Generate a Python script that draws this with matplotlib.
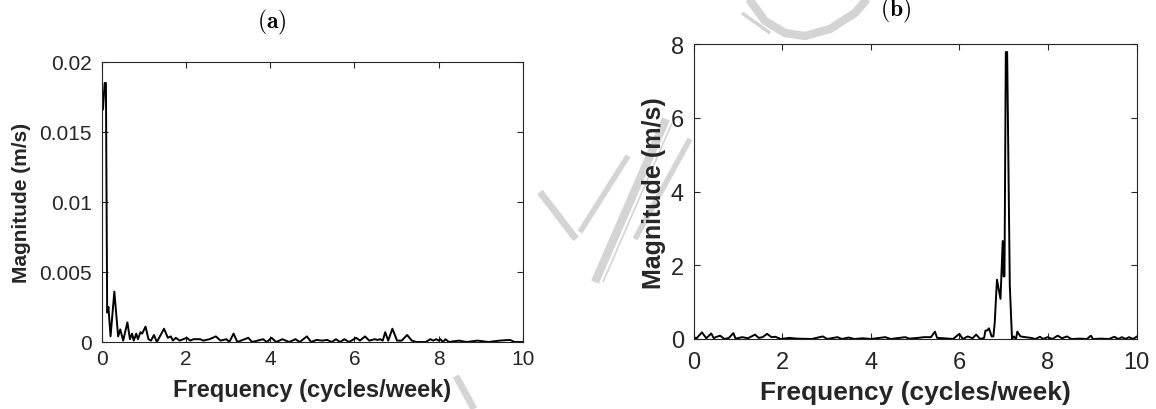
import matplotlib
matplotlib.use("Agg")
import matplotlib.pyplot as plt
from matplotlib.lines import Line2D

plt.rcParams['font.family'] = ['Liberation Sans', 'DejaVu Sans']
plt.rcParams['mathtext.fontset'] = 'cm'

# Panel (a): spectrum of low-amplitude signal
freq_a = [0.0, 0.03, 0.07, 0.1, 0.13, 0.16, 0.21, 0.30, 0.39, 0.44, 0.51, 0.61, 0.67, 0.72,
          0.76, 0.82, 0.86, 0.92, 0.96, 1.04, 1.11, 1.17, 1.24, 1.31, 1.48, 1.57, 1.64,
          1.69, 1.76, 1.85, 2.02, 2.10, 2.18, 2.25, 2.34, 2.41, 2.56, 2.71, 2.82, 2.96,
          3.03, 3.13, 3.22, 3.48, 3.57, 3.83, 3.92, 4.03, 4.14, 4.29, 4.45, 4.60, 4.70,
          4.87, 4.97, 5.10, 5.24, 5.35, 5.46, 5.56, 5.66, 5.76, 5.87, 6.04, 6.13, 6.25,
          6.35, 6.48, 6.55, 6.61, 6.67, 6.73, 6.80, 6.90, 7.01, 7.12, 7.25, 7.36, 7.47,
          7.69, 7.80, 7.87, 7.94, 8.00, 8.04, 8.10, 8.16, 8.24, 8.48, 8.66, 8.92, 9.18,
          9.45, 9.69, 9.80, 10.0]
mag_a = [0.0166, 0.0166, 0.0185, 0.0185, 0.0021, 0.0025, 0.0004, 0.0036, 0.0004, 0.0009,
         0.0001, 0.0014, 0.0002, 0.0006, 0.0001, 0.0006, 0.0002, 0.0007, 0.0006, 0.0011,
         0.0002, 0.0001, 0.0005, 0.0000, 0.00095, 0.0003, 0.0004, 0.0001, 0.0003, 0.0001,
         0.0003, 0.0001, 0.0002, 0.0002, 0.0002, 0.0001, 0.0002, 0.0004, 0.0001, 0.0002,
         0.0000, 0.0006, 0.0000, 0.0003, 0.0000, 0.0002, 0.0000, 0.0003, 0.0000, 0.0002,
         0.0000, 0.0002, 0.0000, 0.0004, 0.0000, 0.00015, 0.0001, 0.00015, 0.0000, 0.0002,
         0.0000, 0.0002, 0.0000, 0.0003, 0.0001, 0.0004, 0.0001, 0.0002, 0.00015, 0.0002,
         0.0001, 0.0007, 0.0001, 0.00095, 0.0001, 0.0001, 0.0005, 0.0001, 0.0000, 0.0000,
         0.0002, 0.0001, 0.0002, 0.0001, 0.0002, 0.0000, 0.0002, 0.0000, 0.0001, 0.0000,
         0.0001, 0.0000, 0.0001, 0.00015, 0.0000, 0.0000]

# Panel (b): spectrum with dominant weekly peak
freq_b = [0.0, 0.07, 0.19, 0.29, 0.40, 0.46, 0.50, 0.60, 0.70, 0.80, 0.90, 0.95, 1.10,
          1.23, 1.39, 1.47, 1.56, 1.66, 1.76, 1.85, 1.97, 2.16, 2.34, 2.67, 2.92, 3.02,
          3.25, 3.35, 3.50, 3.63, 3.82, 4.00, 4.33, 4.45, 4.58, 4.78, 4.87, 5.07, 5.20,
          5.36, 5.45, 5.50, 5.65, 5.86, 6.00, 6.08, 6.19, 6.30, 6.38, 6.47, 6.56, 6.59,
          6.63, 6.67, 6.73, 6.77, 6.80, 6.85, 6.93, 6.98, 7.00, 7.02, 7.05, 7.08, 7.14,
          7.19, 7.23, 7.28, 7.31, 7.38, 7.49, 7.62, 7.72, 7.82, 7.90, 7.99, 8.10, 8.22,
          8.32, 8.43, 8.53, 8.72, 8.88, 8.97, 9.02, 9.21, 9.38, 9.50, 9.59, 9.67, 9.75,
          9.83, 9.92, 10.0]
mag_b = [0.05, 0.02, 0.18, 0.02, 0.15, 0.02, 0.05, 0.09, 0.0, 0.03, 0.16, 0.01, 0.05,
         0.02, 0.12, 0.03, 0.05, 0.14, 0.05, 0.06, 0.0, 0.03, 0.01, 0.0, 0.07, 0.0,
         0.05, 0.0, 0.04, 0.0, 0.02, 0.0, 0.05, 0.0, 0.02, 0.05, 0.01, 0.03, 0.05,
         0.05, 0.20, 0.03, 0.02, 0.0, 0.14, 0.0, 0.07, 0.02, 0.12, 0.0, 0.03, 0.23,
         0.23, 0.29, 0.07, 0.07, 0.45, 1.61, 1.09, 2.66, 1.70, 1.70, 7.79, 7.79, 1.45,
         0.0, 0.07, 0.0, 0.20, 0.07, 0.05, 0.03, 0.0, 0.06, 0.0, 0.05, 0.0, 0.09,
         0.02, 0.07, 0.0, 0.01, 0.0, 0.09, 0.0, 0.01, 0.0, 0.06, 0.0, 0.05, 0.0,
         0.05, 0.0, 0.06]

xticks = [0, 2, 4, 6, 8, 10]
yticks_a = [0, 0.005, 0.01, 0.015, 0.02]
yticks_a_labels = ['0', '0.005', '0.01', '0.015', '0.02']
yticks_b = [0, 2, 4, 6, 8]

W, H = 1156, 410
fig = plt.figure(figsize=(W / 100, H / 100), dpi=100)

# faint "accepted manuscript" watermark strokes (figure pixel coordinates)
wm_color = '#d4d4d4'
wm_strokes = [
    ([595, 666], [283, 120], 6),
    ([603, 672], [283, 124], 1.2),
    ([635, 690], [240, 140], 4),
    ([580, 628], [233, 157], 4),
    ([540, 576], [193, 240], 5),
    ([749, 765, 785, 805, 830, 855, 867], [0, 22, 34, 37, 30, 14, 0], 6),
    ([742, 770], [14, 34], 2.5),
    ([456, 474], [377, 410], 5),
]
for xs, ys, lw in wm_strokes:
    fig.add_artist(Line2D([x / W for x in xs], [1 - y / H for y in ys],
                          transform=fig.transFigure, color=wm_color, lw=lw,
                          solid_capstyle='butt', zorder=0))

def rect(l, r, t, b):
    return [l / W, 1 - b / H, (r - l) / W, (b - t) / H]

ax1 = fig.add_axes(rect(101.7, 523, 63, 343))
ax2 = fig.add_axes(rect(693.5, 1136.5, 45.3, 340))
for ax in (ax1, ax2):
    ax.patch.set_alpha(0)

def style(ax, fs_tick, xpad, ypad):
    for s in ax.spines.values():
        s.set_color('#262626')
        s.set_linewidth(0.8)
    ax.tick_params(direction='in', top=True, right=True, length=4, width=0.8,
                   color='#262626', labelcolor='#262626', labelsize=fs_tick)
    ax.tick_params(axis='x', pad=xpad)
    ax.tick_params(axis='y', pad=ypad)

ax1.plot(freq_a, mag_a, color='black', lw=1.4)
ax1.set_xlim(0, 10)
ax1.set_ylim(0, 0.02)
ax1.set_xticks(xticks)
ax1.set_yticks(yticks_a)
ax1.set_yticklabels(yticks_a_labels)
style(ax1, 15, 5, 7)
ax1.set_xlabel('Frequency (cycles/week)', fontsize=17, fontweight='bold', color='#262626', labelpad=7)
ax1.set_ylabel('Magnitude (m/s)', fontsize=15, fontweight='bold', color='#262626', labelpad=6)

ax2.plot(freq_b, mag_b, color='black', lw=1.4)
ax2.set_xlim(0, 10)
ax2.set_ylim(0, 8)
ax2.set_xticks(xticks)
ax2.set_yticks(yticks_b)
style(ax2, 17, 9, 7)
ax2.set_xlabel('Frequency (cycles/week)', fontsize=19, fontweight='bold', color='#262626', labelpad=5)
ax2.set_ylabel('Magnitude (m/s)', fontsize=18, fontweight='bold', color='#262626', labelpad=3)

fig.text(272 / W, 1 - 22 / H, r'$\mathbf{(a)}$', ha='center', va='center', fontsize=17)
fig.text(896 / W, 1 - 10 / H, r'$\mathbf{(b)}$', ha='center', va='center', fontsize=17)

fig.savefig('out.png', dpi=100)
